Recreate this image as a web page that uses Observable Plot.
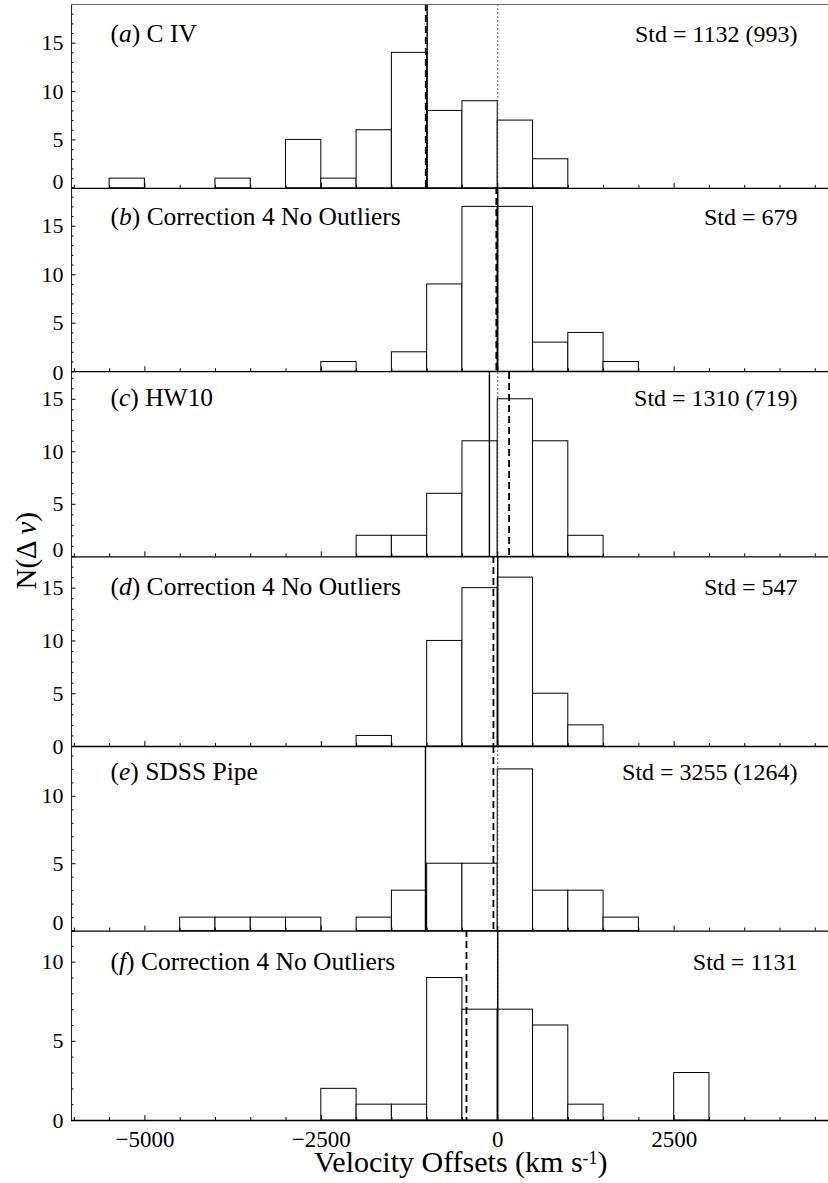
<!DOCTYPE html>
<html>
<head>
<meta charset="utf-8">
<script src="https://cdn.jsdelivr.net/npm/d3@7"></script>
<script src="https://cdn.jsdelivr.net/npm/@observablehq/plot@0.6"></script>
<style>
  body { margin: 0; background: #fff; }
  #fig { position: relative; width: 828px; height: 1183px; color: #000; overflow: hidden; font-family: "Liberation Serif", serif; }
  #fig svg { position: absolute; left: 0; }
  .ylab, .xlab { position: absolute; left: 0; top: 0; white-space: nowrap; line-height: 1; font-family: "Liberation Serif", serif; }
  .ylab { transform-origin: 0 0; }
  .xlab { line-height: 0.6; }
  .xlab sup { font-size: 0.6em; line-height: 0; vertical-align: 0; position: relative; top: -0.42em; }
</style>
</head>
<body>
<div id="fig"></div>
<script>
// Histogram bins are 500 km/s wide; each series lists bin lower edges and counts.
const binWidth = 500;

const civLo = [-5500, -4000, -3000, -2500, -2000, -1500, -1000, -500, 0, 500];
const civN  = [1, 1, 5, 1, 6, 14, 8, 9, 7, 3];

const civCorrLo = [-2500, -1500, -1000, -500, 0, 500, 1000, 1500];
const civCorrN  = [1, 2, 9, 17, 17, 3, 4, 1];

const hw10Lo = [-2000, -1500, -1000, -500, 0, 500, 1000];
const hw10N  = [2, 2, 6, 11, 15, 11, 2];

const hw10CorrLo = [-2000, -1000, -500, 0, 500, 1000];
const hw10CorrN  = [1, 10, 15, 16, 5, 2];

const pipeLo = [-4500, -4000, -3500, -3000, -2000, -1500, -1000, -500, 0, 500, 1000, 1500];
const pipeN  = [1, 1, 1, 1, 1, 3, 5, 5, 12, 3, 3, 1];

const pipeCorrLo = [-2500, -2000, -1500, -1000, -500, 0, 500, 1000, 2500];
const pipeCorrN  = [2, 1, 1, 9, 7, 7, 6, 1, 3];

// Panel titles and statistics
const panelLetters = ["a", "b", "c", "d", "e", "f"];
const panelNames = ["C IV", "Correction 4 No Outliers", "HW10", "Correction 4 No Outliers", "SDSS Pipe", "Correction 4 No Outliers"];
const stdLabels = ["Std = 1132 (993)", "Std = 679", "Std = 1310 (719)", "Std = 547", "Std = 3255 (1264)", "Std = 1131"];

// Reference offsets drawn as vertical lines (km/s)
const solidAt  = [-1000, 0, -118, 0, -1024, 0];
const dashedAt = [-1020, -20, 161, -61, -61, -443];

// Axis settings
const xDomain = [-6040, 4687];
const xTickLabels = [-5000, -2500, 0, 2500];
const yMax = [19, 19, 17.55, 18, 13.7, 12];
const yTickLabels = [[0, 5, 10, 15], [0, 5, 10, 15], [0, 5, 10, 15], [0, 5, 10, 15], [0, 5, 10], [0, 5, 10]];

// Page layout (pixels)
const W = 828, ML = 71, MR = 0;
const panelTop    = [3.5, 187.3, 371.7, 555.7, 745.7, 930.3];
const panelBottom = [187.3, 371.5, 556, 745.7, 930.3, 1120.3];
const titleDy = [38, 38, 33.5, 38.5, 33.5, 39];
const zeroLabelDy = [-6, 1, -7, 0, -8, 0];

const seriesLo = [civLo, civCorrLo, hw10Lo, hw10CorrLo, pipeLo, pipeCorrLo];
const seriesN  = [civN, civCorrN, hw10N, hw10CorrN, pipeN, pipeCorrN];

const FONT = '"Liberation Serif", serif';
const fig = document.getElementById("fig");
const pxPerX = (W - ML - MR) / (xDomain[1] - xDomain[0]);
const fmt = d => (d < 0 ? "\u2212" + Math.abs(d) : String(d));

panelLetters.forEach((letter, i) => {
  const innerH = panelBottom[i] - panelTop[i];
  const mt = 6;
  const mb = i === 5 ? 40 : 12;
  const pxPerY = innerH / yMax[i];
  const bars = seriesLo[i].map((lo, j) => ({x1: lo, x2: lo + binWidth, n: seriesN[i][j]}));
  const xTicks = d3.range(-6000, 4501, 500);
  const yTicks = d3.range(0, Math.floor(yMax[i]) + 1);
  const title = `(${letter}) ${panelNames[i]}`;
  const txt = {fontFamily: FONT, fill: "black"};

  const marks = [
    Plot.rect(bars, {x1: "x1", x2: "x2", y1: 0, y2: "n", fill: "white", stroke: "black", strokeWidth: 1}),
    Plot.ruleX([0], {stroke: "#333", strokeWidth: 0.8, strokeDasharray: "2,2"}),
    Plot.ruleX([solidAt[i]], {stroke: "black", strokeWidth: 1.4}),
    Plot.ruleX([dashedAt[i]], {stroke: "black", strokeWidth: 1.8, strokeDasharray: "7,4"}),
    // inward tick marks along the bottom and left edges
    Plot.ruleX(xTicks, {x: d => d, y1: 0, y2: d => (d % 2500 === 0 ? 5 : 3) / pxPerY, stroke: "black", strokeWidth: 1}),
    Plot.ruleY(yTicks, {y: d => d, x1: xDomain[0], x2: d => xDomain[0] + (d % 5 === 0 ? 4.5 : 2.5) / pxPerX, stroke: "black", strokeWidth: 1}),
    Plot.ruleX([xDomain[0]], {stroke: "#222", strokeWidth: 1.1}),
    Plot.ruleY([0], {stroke: "black", strokeWidth: 1.3}),
    // y tick labels
    Plot.text(yTickLabels[i].filter(v => v > 0), {...txt, x: xDomain[0], y: d => d, text: d => String(d), textAnchor: "end", lineAnchor: "middle", dx: -8, fontSize: 22}),
    Plot.text([0], {...txt, x: xDomain[0], y: d => d, text: d => String(d), textAnchor: "end", lineAnchor: "middle", dx: -8, dy: zeroLabelDy[i], fontSize: 22}),
    // panel title and statistic
    Plot.text([title], {...txt, text: d => d, frameAnchor: "top-left", textAnchor: "start", lineAnchor: "bottom", dx: 39, dy: titleDy[i], fontSize: 25.5}),
    Plot.text([stdLabels[i]], {...txt, text: d => d, frameAnchor: "top-right", textAnchor: "end", lineAnchor: "bottom", dx: -31, dy: titleDy[i], fontSize: 24})
  ];
  if (i === 0) marks.push(Plot.ruleY([yMax[i]], {stroke: "#666", strokeWidth: 1}));
  if (i === 5) marks.push(Plot.text(xTickLabels, {...txt, x: d => d, y: 0, text: fmt, lineAnchor: "middle", dy: 19, fontSize: 23}));

  const svg = Plot.plot({
    width: W,
    height: innerH + mt + mb,
    marginLeft: ML,
    marginRight: MR,
    marginTop: mt,
    marginBottom: mb,
    x: {domain: xDomain, axis: null},
    y: {domain: [0, yMax[i]], axis: null},
    style: {fontFamily: FONT, background: "transparent", overflow: "visible", color: "black"},
    marks
  });
  svg.setAttribute("font-family", FONT);
  svg.style.top = (panelTop[i] - mt) + "px";
  // italic panel letter
  svg.querySelectorAll("text").forEach(t => {
    if (t.textContent === title) {
      t.innerHTML = `(<tspan font-style="italic">${letter}</tspan>) ${panelNames[i]}`;
    }
  });
  fig.appendChild(svg);
});

// Axis titles, placed from their measured boxes
const ylab = document.createElement("div");
ylab.className = "ylab";
ylab.style.fontSize = "29px";
ylab.innerHTML = "N(\u0394 <i>v</i>)";
fig.appendChild(ylab);
{
  const w = ylab.offsetWidth, h = ylab.offsetHeight;
  // rotate a quarter turn counter-clockwise, centred at (26, 551)
  ylab.style.transform = `translate(${26 - h / 2}px, ${551 + w / 2}px) rotate(-90deg)`;
}

const xlab = document.createElement("div");
xlab.className = "xlab";
xlab.style.fontSize = "30px";
xlab.innerHTML = "Velocity Offsets (km s<sup>-1</sup>)";
fig.appendChild(xlab);
{
  const w = xlab.offsetWidth;
  xlab.style.left = (461 - w / 2) + "px";
  xlab.style.top = "1153px";
}
</script>
</body>
</html>
